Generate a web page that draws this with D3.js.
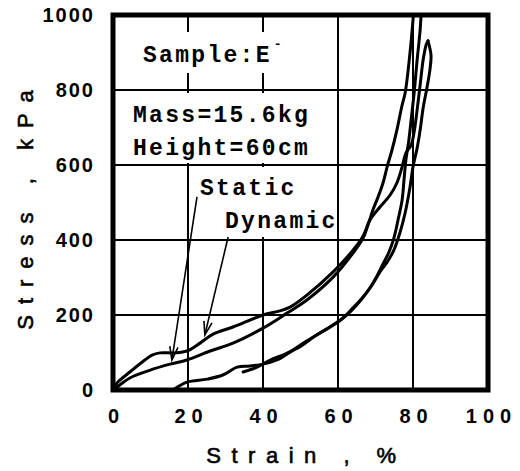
<!DOCTYPE html>
<html>
<head>
<meta charset="utf-8">
<script src="https://cdn.jsdelivr.net/npm/d3@7"></script>
<style>
  body { margin: 0; background: #fff; }
</style>
</head>
<body>
<div id="chart"></div>
<script>
// tick labels
const xTicks = [0, 20, 40, 60, 80, 100];
const yTicks = [0, 200, 400, 600, 800, 1000];
const xTitle = 'Strain , %';
const yTitle = 'Stress , kPa';

// curves, [strain %, stress kPa]
const staticLoad = [
  [0, 0], [1.1, 8], [4.5, 32], [9.9, 53], [15.2, 69], [19.7, 80], [25.9, 104], [32, 125],
  [40, 165], [46.4, 205], [51.7, 240], [58.7, 301], [64, 365], [66.7, 405], [68, 440],
  [69.3, 480], [70.7, 515], [72, 552], [73.1, 595], [74.4, 640], [75.7, 693], [77.1, 760],
  [77.9, 792], [79.2, 899], [80, 987], [80.3, 1030]
];
const staticUnload = [
  [82.3, 1030], [81.9, 960], [81.1, 880], [80.3, 792], [79.5, 720], [78.9, 667], [78.1, 613],
  [77.6, 560], [77.1, 507], [76, 453], [74.9, 405], [73.6, 368], [72, 336], [70.4, 304],
  [68.5, 272], [66.1, 240], [63.5, 211], [60.8, 187], [56.5, 160], [51.2, 128], [47.2, 101],
  [43.7, 80], [40, 69], [36.5, 64], [33.1, 61], [29.3, 40], [25.1, 29], [19.7, 21], [16, 0]
];
const dynamicLoad = [
  [0, 0], [1.1, 19], [4.5, 48], [8.5, 80], [10.4, 93], [12.5, 99], [16.5, 99], [19.7, 104],
  [23.2, 125], [26.7, 149], [32, 168], [40, 200], [44.5, 211], [47.2, 221], [51.7, 253],
  [58.7, 315], [64, 373], [66.7, 411], [68.5, 453], [71.2, 488], [73.9, 520], [75.7, 552],
  [77.1, 595], [78.1, 632], [79.5, 653], [80.3, 688], [81.1, 747], [81.9, 813], [82.7, 880],
  [83.5, 920], [84, 931]
];
const dynamicUnload = [
  [84, 931], [84.8, 893], [84.5, 853], [83.7, 805], [82.7, 752], [81.9, 693], [81.1, 645],
  [80, 595], [79.2, 541], [77.9, 472], [76.5, 419], [74.9, 373], [73.1, 341], [71.2, 315],
  [69.1, 280], [66.7, 248], [64, 219], [61.3, 192], [57.9, 168], [53.9, 144], [50.1, 117],
  [45.9, 96], [41.9, 80], [38.4, 61], [34.7, 48]
];

// label arrows, tail -> tip
const arrows = [
  { name: 'Static', from: [22.4, 515], to: [15.7, 80] },
  { name: 'Dynamic', from: [30.7, 408], to: [24.5, 147] }
];

const width = 520, height = 471;
const plotLeft = 113, plotTop = 15, plotW = 375, plotH = 375;   // plot box

const svg = d3.select('#chart')
  .append('svg')
  .attr('width', width)
  .attr('height', height);

const x = d3.scaleLinear().domain([0, 100]).range([plotLeft, plotLeft + plotW]);
const y = d3.scaleLinear().domain([0, 1000]).range([plotTop + plotH, plotTop]);

// grid
svg.append('g')
  .selectAll('line')
  .data(xTicks.slice(1, -1))
  .enter()
  .append('line')
  .attr('x1', d => x(d)).attr('x2', d => x(d))
  .attr('y1', y(0)).attr('y2', y(1000))
  .attr('stroke', '#000')
  .attr('stroke-width', 2);

svg.append('g')
  .selectAll('line')
  .data(yTicks.slice(1, -1))
  .enter()
  .append('line')
  .attr('x1', x(0)).attr('x2', x(100))
  .attr('y1', d => y(d)).attr('y2', d => y(d))
  .attr('stroke', '#000')
  .attr('stroke-width', 2);

// white boxes behind the notes (they hide the grid)
const boxes = [[125, 32, 165, 41], [120, 93, 212, 70], [196, 167, 140, 70]];
svg.append('g')
  .selectAll('rect')
  .data(boxes)
  .enter()
  .append('rect')
  .attr('x', d => d[0]).attr('y', d => d[1])
  .attr('width', d => d[2]).attr('height', d => d[3])
  .attr('fill', '#fff');

// notes
const noteFont = '"Liberation Mono", "DejaVu Sans Mono", monospace';
function note(tx, ty, str) {
  return svg.append('text')
    .attr('x', tx)
    .attr('y', ty)
    .style('font-family', noteFont)
    .style('font-size', '23px')
    .style('font-weight', 'bold')
    .style('letter-spacing', '2.3px')
    .text(str);
}
const sample = note(143, 62, 'Sample:E');
sample.append('tspan')
  .attr('dx', 2)
  .attr('dy', -14)
  .style('font-size', '13px')
  .text('-');
note(133, 122, 'Mass=15.6kg');
note(133, 155, 'Height=60cm');
note(200, 195, 'Static');
note(225, 228, 'Dynamic');

// curves
svg.append('clipPath')
  .attr('id', 'plot-clip')
  .append('rect')
  .attr('x', plotLeft).attr('y', plotTop)
  .attr('width', plotW).attr('height', plotH);

const line = d3.line()
  .x(d => x(d[0]))
  .y(d => y(d[1]))
  .curve(d3.curveCatmullRom.alpha(0.5));

svg.append('g')
  .attr('clip-path', 'url(#plot-clip)')
  .selectAll('path')
  .data([staticLoad, staticUnload, dynamicLoad, dynamicUnload])
  .enter()
  .append('path')
  .attr('d', line)
  .attr('fill', 'none')
  .attr('stroke', '#000')
  .attr('stroke-width', 3)
  .attr('stroke-linejoin', 'round')
  .attr('stroke-linecap', 'round');

// arrows with open heads
const ag = svg.append('g')
  .attr('stroke', '#000')
  .attr('stroke-width', 1.6)
  .attr('fill', 'none');
arrows.forEach(a => {
  const x1 = x(a.from[0]), y1 = y(a.from[1]), x2 = x(a.to[0]), y2 = y(a.to[1]);
  const ang = Math.atan2(y2 - y1, x2 - x1);
  const len = 14, spread = 0.3;
  ag.append('line').attr('x1', x1).attr('y1', y1).attr('x2', x2).attr('y2', y2);
  ag.append('path')
    .attr('d', `M${x2 - len * Math.cos(ang - spread)},${y2 - len * Math.sin(ang - spread)}` +
               `L${x2},${y2}` +
               `L${x2 - len * Math.cos(ang + spread)},${y2 - len * Math.sin(ang + spread)}`);
});

// frame
svg.append('rect')
  .attr('x', plotLeft).attr('y', plotTop)
  .attr('width', plotW).attr('height', plotH)
  .attr('fill', 'none')
  .attr('stroke', '#000')
  .attr('stroke-width', 5);

// axes (labels only)
const tickFont = '"Liberation Sans", Arial, sans-serif';
const xAxis = svg.append('g')
  .attr('transform', `translate(0,${plotTop + plotH})`)
  .call(d3.axisBottom(x).tickValues(xTicks).tickFormat(d3.format('d')).tickSize(0).tickPadding(19));
xAxis.select('.domain').remove();
xAxis.selectAll('text')
  .attr('dx', 3)
  .style('font-family', tickFont)
  .style('font-size', '20px')
  .style('font-weight', 'bold')
  .style('letter-spacing', '6px')
  .attr('fill', '#000');

const yAxis = svg.append('g')
  .attr('transform', `translate(${plotLeft},0)`)
  .call(d3.axisLeft(y).tickValues(yTicks).tickFormat(d3.format('d')).tickSize(0).tickPadding(20));
yAxis.select('.domain').remove();
yAxis.selectAll('text')
  .style('font-family', tickFont)
  .style('font-size', '20px')
  .style('font-weight', 'bold')
  .style('letter-spacing', '2px')
  .attr('dx', 2)
  .attr('fill', '#000');

// axis titles
svg.append('text')
  .attr('x', plotLeft + plotW / 2 + 6)
  .attr('y', 463)
  .attr('text-anchor', 'middle')
  .attr('stroke', '#000')
  .attr('stroke-width', 0.6)
  .style('font-family', tickFont)
  .style('font-size', '22px')
  .style('letter-spacing', '10.5px')
  .text(xTitle);

svg.append('text')
  .attr('transform', `translate(33,${plotTop + plotH / 2 + 2}) rotate(-90)`)
  .attr('text-anchor', 'middle')
  .attr('stroke', '#000')
  .attr('stroke-width', 0.6)
  .style('font-family', tickFont)
  .style('font-size', '22px')
  .style('letter-spacing', '11px')
  .text(yTitle);
</script>
</body>
</html>
